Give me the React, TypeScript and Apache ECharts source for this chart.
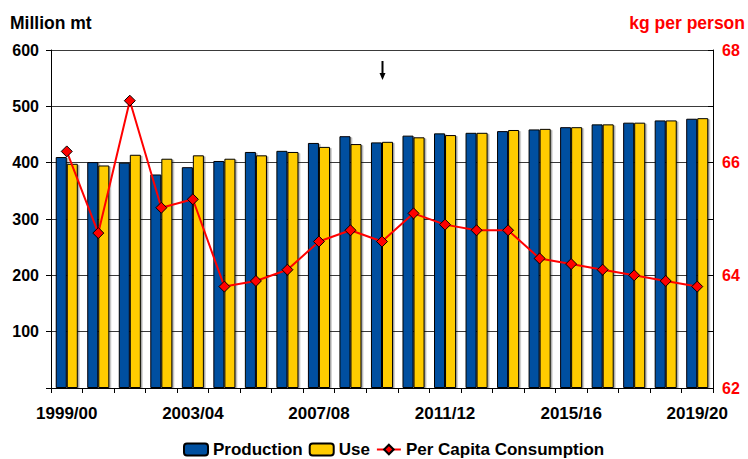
import React, { useEffect, useRef } from "react";
import * as echarts from "echarts";

const categories = [
  "1999/00", "2000/01", "2001/02", "2002/03", "2003/04", "2004/05", "2005/06",
  "2006/07", "2007/08", "2008/09", "2009/10", "2010/11", "2011/12", "2012/13",
  "2013/14", "2014/15", "2015/16", "2016/17", "2017/18", "2018/19", "2019/20",
];
const production = [410, 401, 400, 379, 392, 403, 419, 421, 435, 447, 436, 448, 452, 453, 456, 459, 463, 468, 471, 475, 478];
const use = [398, 395, 414, 407, 413, 407, 413, 419, 428, 433, 437, 445, 449, 453, 458, 460, 463, 468, 471, 475, 479];
const perCapita = [66.2, 64.75, 67.1, 65.2, 65.35, 63.8, 63.9, 64.1, 64.6, 64.8, 64.6, 65.1, 64.9, 64.8, 64.8, 64.3, 64.2, 64.1, 64.0, 63.9, 63.8];

const FONT = "'Liberation Sans', Arial, sans-serif";

export default function App() {
  const ref = useRef<HTMLDivElement>(null);
  useEffect(() => {
    if (!ref.current) return;
    const chart = echarts.init(ref.current, null, { renderer: "svg" });
    const barStyle = (color: string) => ({
      color,
      borderColor: "#000",
      borderWidth: 1,
      shadowColor: "rgba(0,0,0,0.35)",
      shadowOffsetX: 1.5,
      shadowOffsetY: 1,
      shadowBlur: 0,
    });
    chart.setOption({
      animation: false,
      backgroundColor: "#fff",
      textStyle: { fontFamily: FONT },
      grid: { left: 51, right: 35, top: 50, bottom: 71, containLabel: false },
      graphic: [
        {
          type: "text",
          left: 10,
          top: 14,
          style: { text: "Million mt", font: `bold 17.5px ${FONT}`, fill: "#000" },
        },
        {
          type: "text",
          right: 3,
          top: 14,
          style: { text: "kg per person", font: `bold 17.5px ${FONT}`, fill: "#ff0000" },
        },
        {
          type: "line",
          shape: { x1: 382.5, y1: 61, x2: 382.5, y2: 75 },
          style: { stroke: "#000", lineWidth: 2 },
        },
        {
          type: "polygon",
          shape: { points: [[379.5, 73], [385.5, 73], [382.5, 80]] },
          style: { fill: "#000" },
        },
      ],
      legend: {
        top: 436,
        left: 178,
        itemWidth: 24,
        itemHeight: 12,
        itemGap: 6,
        textStyle: { fontFamily: FONT, fontWeight: "bold", fontSize: 17, color: "#000" },
        data: ["Production", "Use", "Per Capita Consumption"],
      },
      xAxis: {
        type: "category",
        data: categories,
        boundaryGap: true,
        axisLine: { lineStyle: { color: "#000", width: 1 } },
        axisTick: { show: true, interval: 0, length: 5, lineStyle: { color: "#000" } },
        axisLabel: {
          interval: 3,
          margin: 17,
          fontFamily: FONT,
          fontWeight: "bold",
          fontSize: 17,
          color: "#000",
        },
      },
      yAxis: [
        {
          type: "value",
          min: 0,
          max: 600,
          interval: 100,
          axisLine: { show: true, lineStyle: { color: "#000" } },
          axisTick: { show: true, length: 5, lineStyle: { color: "#000" } },
          splitLine: { show: true, lineStyle: { color: "#3a3a3a", width: 1 } },
          axisLabel: {
            margin: 12,
            fontFamily: FONT,
            fontWeight: "bold",
            fontSize: 16,
            color: "#000",
            formatter: (v: number) => (v === 0 ? "" : String(v)),
          },
        },
        {
          type: "value",
          min: 62,
          max: 68,
          interval: 1,
          position: "right",
          axisLine: { show: true, lineStyle: { color: "#000" } },
          axisTick: { show: true, inside: true, length: 5, lineStyle: { color: "#000" } },
          splitLine: { show: false },
          axisLabel: {
            margin: 9,
            fontFamily: FONT,
            fontWeight: "bold",
            fontSize: 16,
            color: "#ff0000",
            formatter: (v: number) => (Math.round(v) % 2 === 0 ? String(v) : ""),
          },
        },
      ],
      series: [
        {
          name: "Production",
          type: "bar",
          data: production,
          barGap: "0%",
          barCategoryGap: "30%",
          itemStyle: barStyle("#0050a0"),
        },
        {
          name: "Use",
          type: "bar",
          data: use,
          barGap: "0%",
          barCategoryGap: "30%",
          itemStyle: barStyle("#ffcc00"),
        },
        {
          name: "Per Capita Consumption",
          type: "line",
          yAxisIndex: 1,
          data: perCapita,
          symbol: "diamond",
          symbolSize: 11,
          lineStyle: { color: "#ff0000", width: 2 },
          itemStyle: { color: "#ff0000", borderColor: "#000", borderWidth: 1 },
          z: 5,
        },
      ],
    });
    return () => chart.dispose();
  }, []);
  return <div ref={ref} style={{ width: 748, height: 459, position: "absolute", left: 0, top: 0 }} />;
}
